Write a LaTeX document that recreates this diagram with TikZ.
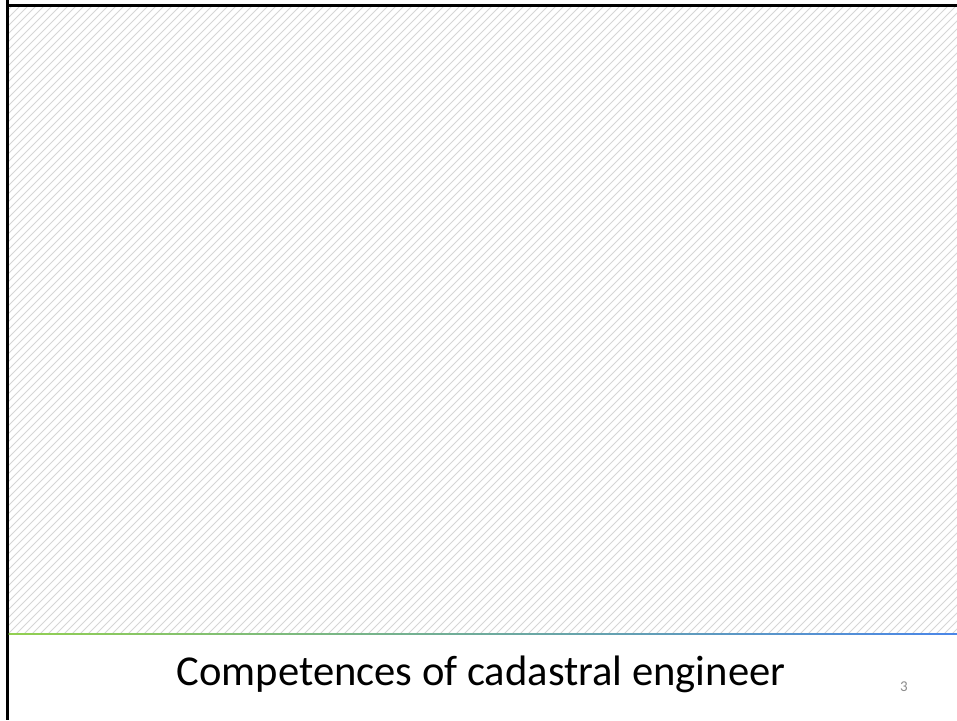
\documentclass[tikz,border=0pt]{standalone}
\usepackage{fontspec}
\setmainfont{Carlito}
\definecolor{lineGreen}{HTML}{92D050}
\definecolor{lineBlue}{HTML}{4A86E8}
\definecolor{hatchGray}{HTML}{D6D6D6}
\definecolor{numGray}{HTML}{8C8C8C}
\begin{document}
\begin{tikzpicture}[x=1pt,y=1pt,
  hatch/.style={hatchGray, line width=1pt},
  frame/.style={black, line width=3pt},
  title/.style={font=\fontsize{42.6}{50}\selectfont, text=black, anchor=base, inner sep=0pt},
  pagenum/.style={font=\fontsize{15}{18}\selectfont, text=numGray, anchor=base, inner sep=0pt}]
\useasboundingbox (0,0) rectangle (957,720);
\fill[white] (0,0) rectangle (957,720);
% hatched area
\begin{scope}
  \clip (8,86) rectangle (957,713);
  \foreach \i in {-720,-712,...,960} {
    \draw[hatch] (\i,86) -- ++(640,640);
  }
\end{scope}
% frame (left and top)
\draw[frame] (7,720) -- (7,714.5) -- (957,714.5);
\draw[frame] (7,720) -- (7,0);
% separator line with gradient
\shade[left color=lineGreen, right color=lineBlue] (8.5,85.3) rectangle (957,86.7);
% title
\node[title] (title) at (481,35) {Competences of cadastral engineer};
\node[pagenum] (pnum) at (904,29) {3};
\end{tikzpicture}
\end{document}
